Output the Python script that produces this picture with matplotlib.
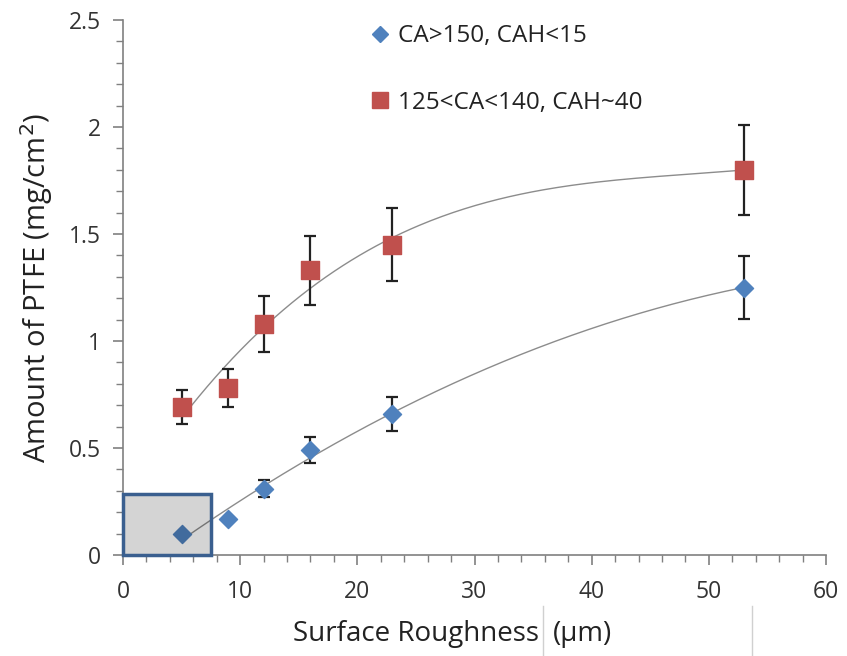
import matplotlib.pyplot as plt
import numpy as np
from matplotlib.patches import Rectangle
from matplotlib.lines import Line2D
from matplotlib.ticker import MultipleLocator

plt.rcParams['font.family'] = ['Open Sans', 'DejaVu Sans']

# surface roughness (um) and PTFE loading (mg/cm2)
roughness = [5, 9, 12, 16, 23, 53]
ptfe_super = [0.10, 0.17, 0.31, 0.49, 0.66, 1.25]
err_super = [0.0, 0.0, 0.04, 0.06, 0.08, 0.145]
ptfe_hydro = [0.69, 0.78, 1.08, 1.33, 1.45, 1.80]
err_hydro = [0.08, 0.09, 0.13, 0.16, 0.17, 0.21]

label_super = "CA>150, CAH<15"
label_hydro = "125<CA<140, CAH~40"

blue = '#4F81BD'
red = '#C0504D'
axis_gray = '#808080'

fig = plt.figure(figsize=(8.47, 6.56), dpi=100)
ax = fig.add_axes([123 / 847, 101 / 656, 703 / 847, 535 / 656])

# polynomial trendlines
xs = np.linspace(min(roughness), max(roughness), 200)
for y, deg in ((ptfe_super, 2), (ptfe_hydro, 3)):
    coef = np.polyfit(roughness, y, deg)
    ax.plot(xs, np.polyval(coef, xs), color='#8c8c8c', lw=1.0, zorder=2)

ax.errorbar(roughness, ptfe_super, yerr=err_super, fmt='none', ecolor='#222222',
            elinewidth=1.6, capsize=4, capthick=1.6, zorder=3)
ax.errorbar(roughness, ptfe_hydro, yerr=err_hydro, fmt='none', ecolor='#222222',
            elinewidth=1.6, capsize=4, capthick=1.6, zorder=3)
ax.scatter(roughness, ptfe_super, marker='D', s=85, color=blue, zorder=4)
ax.scatter(roughness, ptfe_hydro, marker='s', s=160, color=red, zorder=4)

# shaded low-roughness region, darkening what lies beneath
ax.add_patch(Rectangle((0, 0), 7.5, 0.285, facecolor='black', alpha=0.17,
                       edgecolor='none', zorder=5, clip_on=False))
ax.add_patch(Rectangle((0, 0), 7.5, 0.285, facecolor='none',
                       edgecolor='#3A5F8F', lw=2.5, zorder=6, clip_on=False))

ax.set_xlim(0, 60)
ax.set_ylim(0, 2.5)
ax.xaxis.set_major_locator(MultipleLocator(10))
ax.xaxis.set_minor_locator(MultipleLocator(2))
ax.yaxis.set_major_locator(MultipleLocator(0.5))
ax.yaxis.set_minor_locator(MultipleLocator(0.1))
ax.set_yticks([0, 0.5, 1, 1.5, 2, 2.5])
ax.set_yticklabels(['0', '0.5', '1', '1.5', '2', '2.5'])

for side in ('top', 'right'):
    ax.spines[side].set_visible(False)
for side in ('left', 'bottom'):
    ax.spines[side].set_color(axis_gray)
    ax.spines[side].set_linewidth(1.2)
ax.tick_params(which='major', direction='out', length=7, width=1.2,
               labelsize=16.5, pad=9)
ax.tick_params(which='minor', direction='out', length=5, width=1.0)
ax.tick_params(axis='both', which='both', colors=axis_gray, labelcolor='#333333')
ax.tick_params(axis='x', which='major', pad=11)

ax.set_ylabel('Amount of PTFE (mg/cm$^2$)', fontsize=21, color='#222222', labelpad=10)
fig.text(293 / 847, 22 / 656, 'Surface Roughness', fontsize=20, color='#222222',
         va='center', ha='left')
fig.text(553 / 847, 22 / 656, '(\u03bcm)', fontsize=20, color='#222222',
         va='center', ha='left')
for xp in (543, 752):
    fig.add_artist(Line2D([xp / 847, xp / 847], [0, 50 / 656], color='#d0d0d0', lw=1))

handles = [
    Line2D([], [], marker='D', color=blue, ls='none', markersize=8),
    Line2D([], [], marker='s', color=red, ls='none', markersize=11),
]
ax.legend(handles, [label_super, label_hydro], loc='upper left',
          bbox_to_anchor=(341 / 847, 1.0), bbox_transform=fig.transFigure,
          frameon=False, fontsize=17.5, labelspacing=1.75, handletextpad=0.15,
          handlelength=1.2, labelcolor='#222222', borderaxespad=0.6)

fig.savefig('out.png', dpi=100)
